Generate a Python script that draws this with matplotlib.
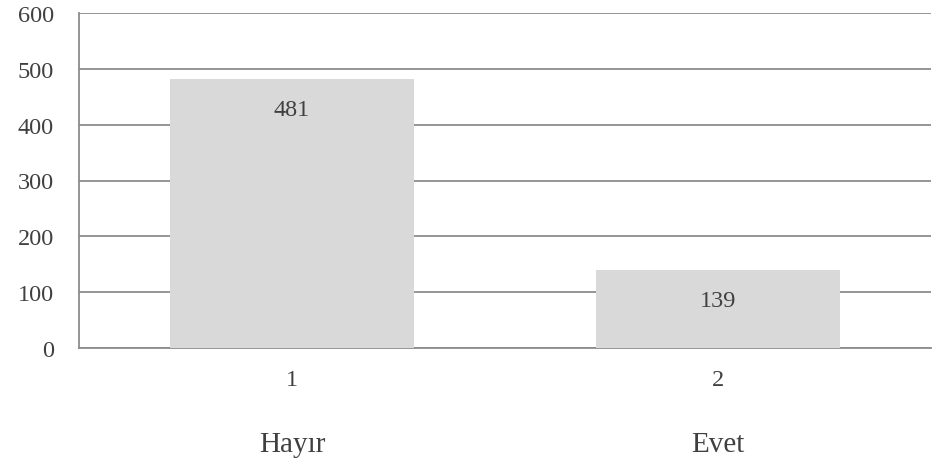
import matplotlib
matplotlib.use("Agg")
import matplotlib.pyplot as plt
from matplotlib.transforms import blended_transform_factory

positions = [1, 2]
answers = ["Hayır", "Evet"]
counts = [481, 139]
y_ticks = [0, 100, 200, 300, 400, 500, 600]

text_color = "#404040"
grid_color = "#8c8c8c"
bar_color = "#d9d9d9"

plt.rcParams["font.family"] = ["Liberation Serif", "DejaVu Serif"]

fig = plt.figure(figsize=(9.4, 4.6), dpi=100)
ax = fig.add_axes([79 / 940, 1 - 349 / 460, 852 / 940, 335 / 460])

ax.bar(positions, counts, width=0.573, color=bar_color, zorder=3)
ax.set_xlim(0.5, 2.5)
ax.set_ylim(0, 600)
ax.set_yticks(y_ticks)
ax.yaxis.grid(True, color=grid_color, linewidth=1.3, zorder=0)
ax.set_axisbelow(True)

for side in ("top", "right"):
    ax.spines[side].set_visible(False)
for side in ("left", "bottom"):
    ax.spines[side].set_color(grid_color)
    ax.spines[side].set_linewidth(1.3)

ax.set_xticks(positions)
ax.set_xticklabels([str(p) for p in positions])
ax.tick_params(axis="both", length=0, labelsize=17.5, colors=text_color)
ax.tick_params(axis="x", pad=15)
ax.tick_params(axis="y", pad=18)

# value labels inside the top of each bar
for x, v in zip(positions, counts):
    ax.annotate(str(v), (x, v), xytext=(0, -21.5), textcoords="offset points",
                ha="center", va="center", fontsize=17.5, color=text_color, zorder=4)

# answer names below the index labels
trans = blended_transform_factory(ax.transData, fig.transFigure)
for x, name in zip(positions, answers):
    ax.text(x, 1 - 452 / 460, name, transform=trans, ha="center", va="baseline",
            fontsize=21, color=text_color)

fig.savefig("out.png", dpi=100)
